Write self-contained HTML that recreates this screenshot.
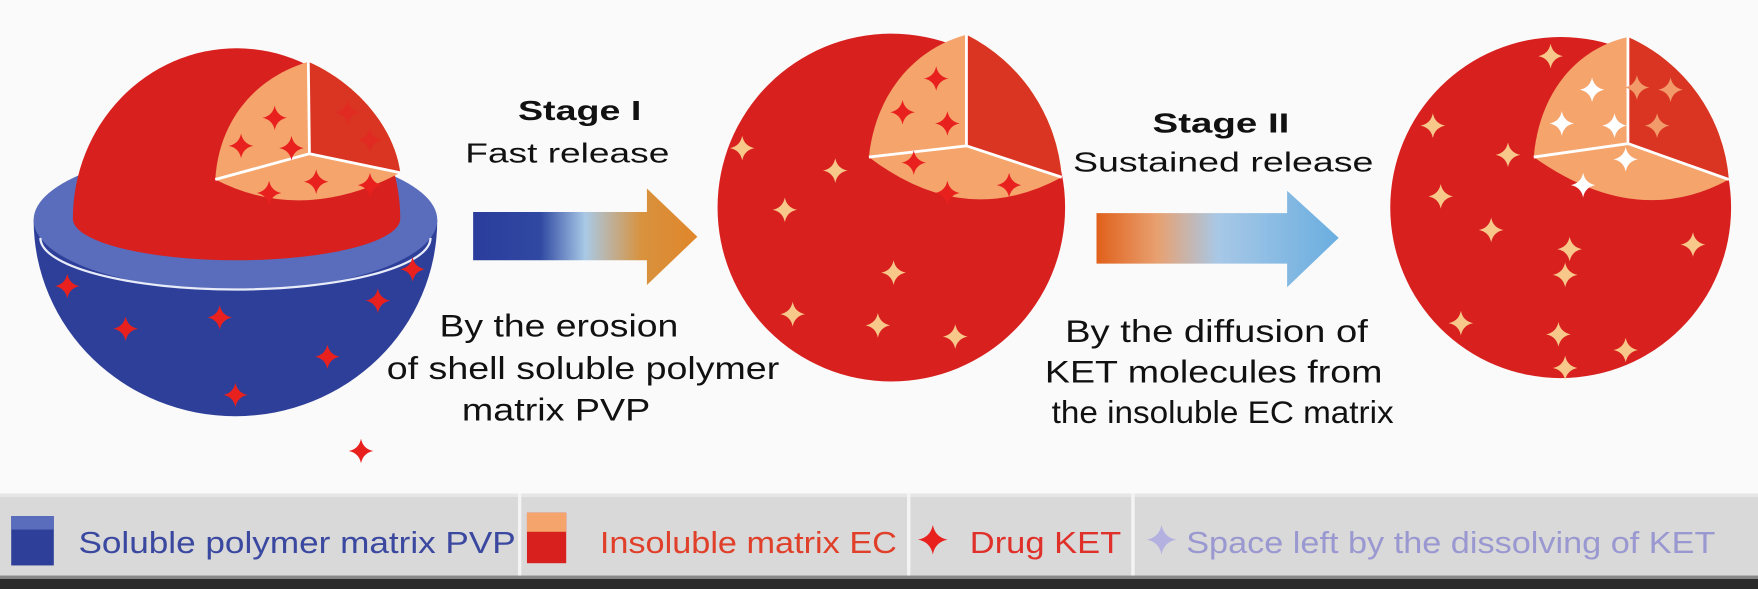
<!DOCTYPE html>
<html><head><meta charset="utf-8"><style>
html,body{margin:0;padding:0;background:#fafafa;overflow:hidden;width:1758px;height:589px;}
svg{display:block;}
text{font-family:"Liberation Sans",Arial,sans-serif;}
</style></head><body>
<svg width="1758" height="589" viewBox="0 0 1568 525" preserveAspectRatio="none" xmlns="http://www.w3.org/2000/svg">
<defs>
<path id="st" d="M0,-11 Q1.8,-1.8 11,0 Q1.8,1.8 0,11 Q-1.8,1.8 -11,0 Q-1.8,-1.8 0,-11Z"/>
<linearGradient id="g1" x1="0" x2="1" y1="0" y2="0">
<stop offset="0" stop-color="#2a3c9c"/><stop offset="0.3" stop-color="#3049a2"/><stop offset="0.5" stop-color="#a9c9e6"/><stop offset="0.75" stop-color="#d8923e"/><stop offset="1" stop-color="#e0862a"/></linearGradient>
<linearGradient id="g2" x1="0" x2="1" y1="0" y2="0">
<stop offset="0" stop-color="#e0601a"/><stop offset="0.25" stop-color="#e8a070"/><stop offset="0.5" stop-color="#a8c8e6"/><stop offset="1" stop-color="#6aaee0"/></linearGradient>
</defs>
<rect width="1568" height="525" fill="#fafafa"/>

<!-- Left sphere -->
<path d="M30,196 A180,175 0 0 0 390,196 Z" fill="#2e3f9a"/>
<ellipse cx="210" cy="196" rx="180" ry="63" fill="#5a6cbc"/>
<path d="M36,212 A174,46 0 0 0 384,212" fill="none" stroke="#e8ecf8" stroke-width="2"/>
<path d="M65,195 A146,152 0 0 1 357,195 A146,37 0 0 1 65,195 Z" fill="#d8201f"/>
<path d="M275,55 C225,70 195,110 192,160 Q270,200 357,154 C352,115 320,75 275,55 Z" fill="#f5a46c"/>
<path d="M275,55 L276,137 L357,154 C352,115 320,75 275,55 Z" fill="#d93522"/>
<path d="M275,55 L276,137 L192,160 M276,137 L357,154" stroke="#fff" stroke-width="2.5" fill="none"/>
<g fill="#e8201e">
<use href="#st" x="245" y="105"/><use href="#st" x="215" y="130"/><use href="#st" x="260" y="132"/><use href="#st" x="282" y="162"/><use href="#st" x="240" y="172"/><use href="#st" x="330" y="165"/>
<use href="#st" x="60" y="255"/><use href="#st" x="112" y="293"/><use href="#st" x="196" y="283"/><use href="#st" x="210" y="352"/><use href="#st" x="292" y="318"/><use href="#st" x="337" y="268"/><use href="#st" x="368" y="240"/>
<use href="#st" x="322" y="402"/>
</g>
<g fill="#e02a22"><use href="#st" x="310" y="100"/><use href="#st" x="330" y="125"/></g>

<!-- Stage I -->
<text x="462" y="107" font-size="25" font-weight="bold" fill="#111" textLength="110" lengthAdjust="spacingAndGlyphs">Stage I</text>
<text x="415" y="145" font-size="25" fill="#111" textLength="182" lengthAdjust="spacingAndGlyphs">Fast release</text>
<path d="M422,189 L577,189 L577,168 L622,211 L577,254 L577,232 L422,232 Z" fill="url(#g1)"/>
<text x="392" y="300" font-size="28" fill="#111" textLength="213" lengthAdjust="spacingAndGlyphs">By the erosion</text>
<text x="345" y="338" font-size="28" fill="#111" textLength="350" lengthAdjust="spacingAndGlyphs">of shell soluble polymer</text>
<text x="412" y="375" font-size="28" fill="#111" textLength="168" lengthAdjust="spacingAndGlyphs">matrix PVP</text>

<!-- Middle circle -->
<circle cx="795" cy="185" r="155" fill="#d8201f"/>
<path d="M862,31 C810,45 780,90 775,140 Q860,205 947,158 A155,155 0 0 0 862,31 Z" fill="#f5a46c"/>
<path d="M862,31 L862,130 L947,158 A155,155 0 0 0 862,31 Z" fill="#d93522"/>
<path d="M862,31 L862,130 L775,140 M862,130 L947,158" stroke="#fff" stroke-width="2.5" fill="none"/>
<g fill="#e8201e"><use href="#st" x="835" y="70"/><use href="#st" x="805" y="100"/><use href="#st" x="845" y="110"/><use href="#st" x="815" y="145"/><use href="#st" x="845" y="172"/><use href="#st" x="900" y="165"/></g>
<g fill="#f7c88a">
<use href="#st" x="662" y="132"/><use href="#st" x="745" y="152"/><use href="#st" x="700" y="187"/><use href="#st" x="797" y="243"/><use href="#st" x="707" y="280"/><use href="#st" x="783" y="290"/><use href="#st" x="852" y="300"/>
</g>

<!-- Stage II -->
<text x="1028" y="118" font-size="25" font-weight="bold" fill="#111" textLength="122" lengthAdjust="spacingAndGlyphs">Stage II</text>
<text x="957" y="153" font-size="25" fill="#111" textLength="268" lengthAdjust="spacingAndGlyphs">Sustained release</text>
<path d="M978,190 L1148,190 L1148,170 L1194,212 L1148,256 L1148,235 L978,235 Z" fill="url(#g2)"/>
<text x="950" y="305" font-size="28" fill="#111" textLength="270" lengthAdjust="spacingAndGlyphs">By the diffusion of</text>
<text x="932" y="341" font-size="28" fill="#111" textLength="301" lengthAdjust="spacingAndGlyphs">KET molecules from</text>
<text x="938" y="377" font-size="28" fill="#111" textLength="305" lengthAdjust="spacingAndGlyphs">the insoluble EC matrix</text>

<!-- Right circle -->
<circle cx="1392" cy="185" r="152" fill="#d8201f"/>
<path d="M1452,33 C1400,45 1372,90 1368,140 Q1460,205 1542,160 A152,152 0 0 0 1452,33 Z" fill="#f5a46c"/>
<path d="M1452,33 L1452,128 L1542,160 A152,152 0 0 0 1452,33 Z" fill="#d93522"/>
<path d="M1452,33 L1452,128 L1368,140 M1452,128 L1542,160" stroke="#fff" stroke-width="2.5" fill="none"/>
<g fill="#f29a6a"><use href="#st" x="1490" y="80"/><use href="#st" x="1478" y="112"/><use href="#st" x="1460" y="78"/></g>
<g fill="#fff"><use href="#st" x="1420" y="80"/><use href="#st" x="1393" y="110"/><use href="#st" x="1440" y="112"/><use href="#st" x="1450" y="142"/><use href="#st" x="1412" y="165"/></g>
<g fill="#f7c88a">
<use href="#st" x="1383" y="50"/><use href="#st" x="1278" y="112"/><use href="#st" x="1345" y="138"/><use href="#st" x="1285" y="175"/><use href="#st" x="1330" y="205"/><use href="#st" x="1400" y="222"/><use href="#st" x="1396" y="245"/><use href="#st" x="1510" y="218"/><use href="#st" x="1303" y="288"/><use href="#st" x="1390" y="298"/><use href="#st" x="1450" y="312"/><use href="#st" x="1396" y="328"/>
</g>

<!-- Legend -->
<rect x="0" y="440" width="1568" height="85" fill="#d9d9d9"/>
<rect x="0" y="440" width="1568" height="3" fill="#e6e6e6"/>
<rect x="0" y="513" width="1568" height="3" fill="#888"/>
<rect x="0" y="516" width="1568" height="9" fill="#2a2a2a"/>
<rect x="462" y="440" width="3" height="73" fill="#f4f4f4"/>
<rect x="809" y="440" width="3" height="73" fill="#f4f4f4"/>
<rect x="1009" y="440" width="3" height="73" fill="#f4f4f4"/>
<rect x="10" y="460" width="38" height="44" fill="#2e3f9a"/>
<rect x="10" y="460" width="38" height="12" fill="#5a6cbc"/>
<text x="70" y="493" font-size="27" fill="#3a48a0" textLength="390" lengthAdjust="spacingAndGlyphs">Soluble polymer  matrix PVP</text>
<rect x="470" y="457" width="35" height="45" fill="#d8201f"/>
<rect x="470" y="457" width="35" height="17" fill="#f5a46c"/>
<text x="535" y="493" font-size="27" fill="#e0402a" textLength="265" lengthAdjust="spacingAndGlyphs">Insoluble matrix EC</text>
<use href="#st" x="832" y="481" fill="#e8201e" transform="translate(832,481) scale(1.2) translate(-832,-481)"/>
<text x="865" y="493" font-size="27" fill="#e0302a" textLength="135" lengthAdjust="spacingAndGlyphs">Drug KET</text>
<use href="#st" x="1036" y="481" fill="#b4b0e0" transform="translate(1036,481) scale(1.2) translate(-1036,-481)"/>
<text x="1058" y="493" font-size="27" fill="#9a98d0" textLength="472" lengthAdjust="spacingAndGlyphs">Space left by the dissolving of KET</text>
</svg>
</body></html>
